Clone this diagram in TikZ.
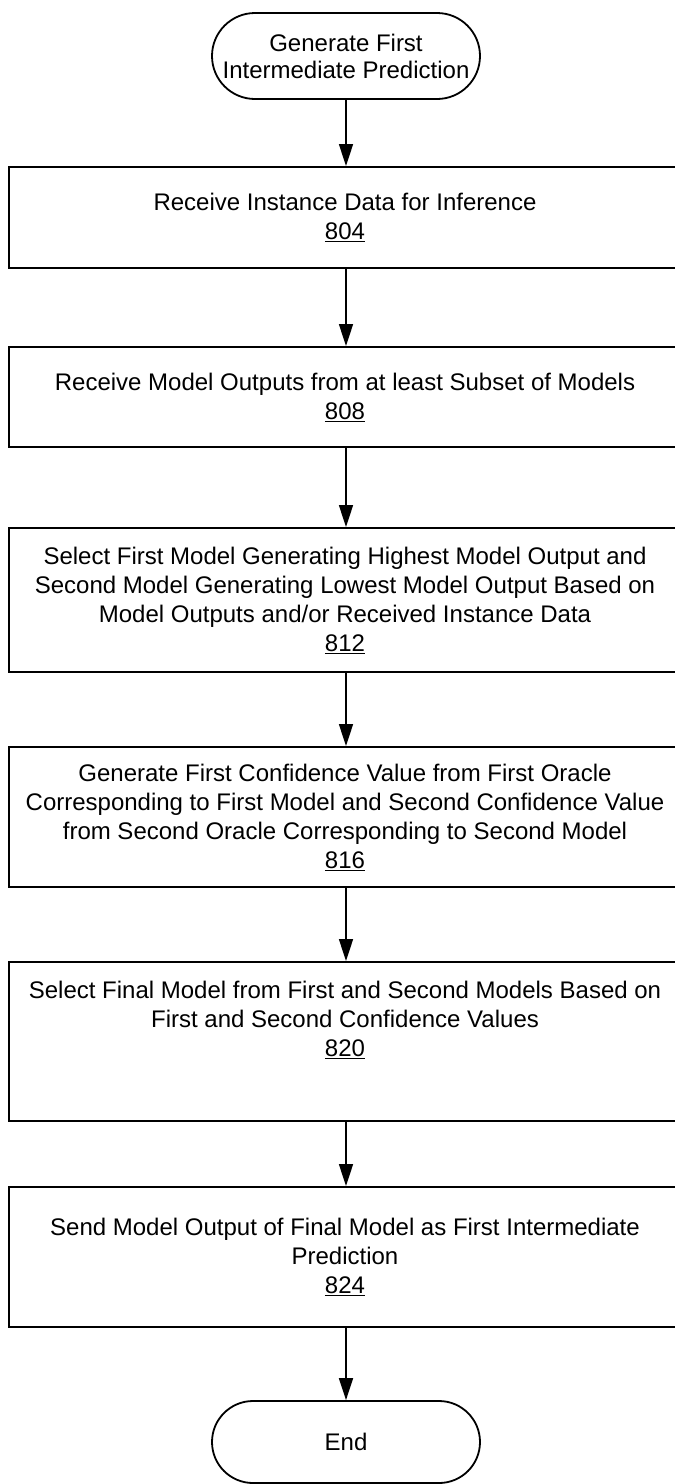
\documentclass[tikz,border=0pt]{standalone}
\usepackage{fontspec}
\setmainfont{Liberation Sans}
\usetikzlibrary{arrows.meta,shapes.misc}
\begin{document}
\begin{tikzpicture}[x=1pt,y=-1pt,
  stepbox/.style={draw,line width=2pt,minimum width=672pt,inner sep=0pt},
  steptext/.style={align=center,inner sep=0pt,font=\fontsize{24}{29}\selectfont},
  term/.style={draw,line width=1.8pt,rounded rectangle,minimum width=268pt,
    inner sep=0pt,align=center,font=\fontsize{24}{27}\selectfont},
  flow/.style={line width=1.6pt,-{Triangle[length=22pt,width=14pt]}}]
\useasboundingbox (0,0) rectangle (675,1484);

\node[term,minimum height=86pt] (start) at (346,56)
  {Generate First\\Intermediate Prediction};

\node[stepbox,minimum height=101pt] (b1) at (345,217.5) {};
\node[steptext] (t1) at (b1.center)
  {Receive Instance Data for Inference\\\underline{804}};

\node[stepbox,minimum height=100pt] (b2) at (345,397) {};
\node[steptext] (t2) at (b2.center)
  {Receive Model Outputs from at least Subset of Models\\\underline{808}};

\node[stepbox,minimum height=144pt] (b3) at (345,600) {};
\node[steptext] (t3) at (b3.center)
  {Select First Model Generating Highest Model Output and\\
   Second Model Generating Lowest Model Output Based on\\
   Model Outputs and/or Received Instance Data\\\underline{812}};

\node[stepbox,minimum height=140pt] (b4) at (345,817) {};
\node[steptext] (t4) at (b4.center)
  {Generate First Confidence Value from First Oracle\\
   Corresponding to First Model and Second Confidence Value\\
   from Second Oracle Corresponding to Second Model\\\underline{816}};

\node[stepbox,minimum height=159pt] (b5) at (345,1041.5) {};
\node[steptext] (t5) at ([yshift=22pt]b5.center)
  {Select Final Model from First and Second Models Based on\\
   First and Second Confidence Values\\\underline{820}};

\node[stepbox,minimum height=140pt] (b6) at (345,1257) {};
\node[steptext] (t6) at (b6.center)
  {Send Model Output of Final Model as First Intermediate\\
   Prediction\\\underline{824}};

\node[term,minimum height=82pt] (end) at (346,1442) {End};

\draw[flow] (start) -- (b1.north -| start);
\draw[flow] (b1.south -| start) -- (b2.north -| start);
\draw[flow] (b2.south -| start) -- (b3.north -| start);
\draw[flow] (b3.south -| start) -- (b4.north -| start);
\draw[flow] (b4.south -| start) -- (b5.north -| start);
\draw[flow] (b5.south -| start) -- (b6.north -| start);
\draw[flow] (b6.south -| start) -- (end);
\end{tikzpicture}
\end{document}
